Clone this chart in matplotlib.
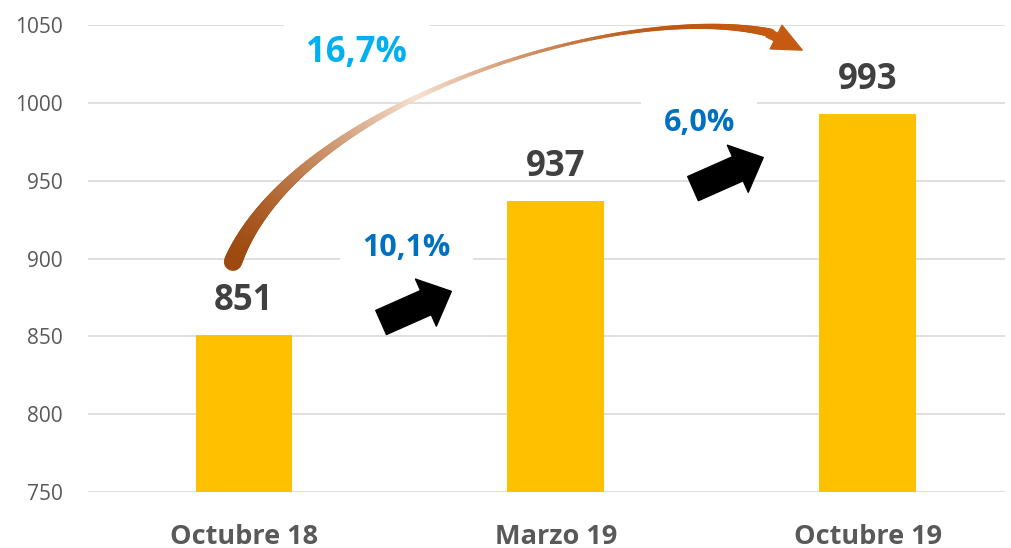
import numpy as np
import matplotlib.pyplot as plt
from matplotlib.collections import LineCollection
from matplotlib.colors import to_rgb

plt.rcParams['font.family'] = ['Open Sans', 'DejaVu Sans']

categories = ['Octubre 18', 'Marzo 19', 'Octubre 19']
values = [851, 937, 993]
growth_labels = ['10,1%', '6,0%']
total_growth = '16,7%'

fig = plt.figure(figsize=(10.11, 5.48), dpi=100)
ax = fig.add_axes([0.087, 0.102, 0.907, 0.852])

x = range(len(categories))
ax.bar(x, values, width=0.31, color='#FFC000', zorder=2)

ax.set_ylim(750, 1050)
ax.set_xlim(-0.5, 2.44)
ax.set_yticks(range(750, 1051, 50))
ax.set_xticks(list(x))
ax.set_xticklabels(categories, fontsize=19.5, fontweight='bold', color='#595959')
ax.tick_params(axis='y', labelsize=15, labelcolor='#595959', length=0, pad=18)
ax.tick_params(axis='x', length=0, pad=23)
ax.grid(axis='y', color='#d9d9d9', linewidth=1.2, zorder=0)
for s in ax.spines.values():
    s.set_visible(False)

# valores sobre las barras
for i, v in enumerate(values):
    ax.text(i, v + 22, str(v), ha='center', va='center', fontsize=25,
            fontweight='bold', color='#404040')

# flechas negras entre barras + etiquetas de crecimiento
lab_off = [(0.08, 48), (0.02, 42)]
for i, lab in enumerate(growth_labels):
    x0 = i + 0.44
    y0 = values[i] + 8
    ax.annotate('', xy=(x0 + 0.225, y0 + 20), xytext=(x0, y0),
                arrowprops=dict(arrowstyle='simple,head_width=1.85,head_length=1.0,tail_width=0.95',
                                color='black', mutation_scale=20, shrinkA=0, shrinkB=0), zorder=4)
    ax.text(x0 + lab_off[i][0], y0 + lab_off[i][1], lab, ha='center', va='center',
            fontsize=22, fontweight='bold', color='#0070C0', zorder=3,
            bbox=dict(facecolor='white', edgecolor='none', pad=16))

ax.text(0.36, 1032, total_growth, ha='center', va='center', fontsize=25,
        fontweight='bold', color='#00B0F0', zorder=3,
        bbox=dict(facecolor='white', edgecolor='none', pad=16))

# flecha curva (16,7%) con degradado
p0 = np.array([-0.035, values[0] + 47])
p1 = np.array([0.17, values[0] + 150])
p2 = np.array([1.21, values[2] + 74])
p3 = np.array([1.69, values[2] + 52])
t = np.linspace(0, 1, 240)[:, None]
curve = (1 - t) ** 3 * p0 + 3 * (1 - t) ** 2 * t * p1 + 3 * (1 - t) * t ** 2 * p2 + t ** 3 * p3
segs = np.stack([curve[:-1], curve[1:]], axis=1)
tm = np.linspace(0, 1, len(segs))
widths = 1.2 + 12 * (1 - tm) ** 3 + 5.0 * tm ** 5
dark_a = np.array(to_rgb('#9C4A10'))
dark_b = np.array(to_rgb('#C55A11'))
light = np.array(to_rgb('#F6E2D3'))
fade = np.clip(1 - np.abs(tm - 0.42) / 0.40, 0, 1) ** 1.5
base = dark_a * (1 - tm[:, None]) + dark_b * tm[:, None]
cols = base * (1 - fade[:, None]) + light * fade[:, None]
lc = LineCollection(segs, colors=cols, linewidths=widths, capstyle='round', zorder=4)
lc.set_clip_on(False)
ax.add_collection(lc)
ax.annotate('', xy=(1.79, values[2] + 41), xytext=(1.68, values[2] + 52),
            arrowprops=dict(arrowstyle='simple,head_width=0.95,head_length=1.05,tail_width=0.3',
                            color='#C55A11', mutation_scale=20, shrinkA=0, shrinkB=0),
            zorder=5, annotation_clip=False)

fig.savefig('out.png', dpi=100)
